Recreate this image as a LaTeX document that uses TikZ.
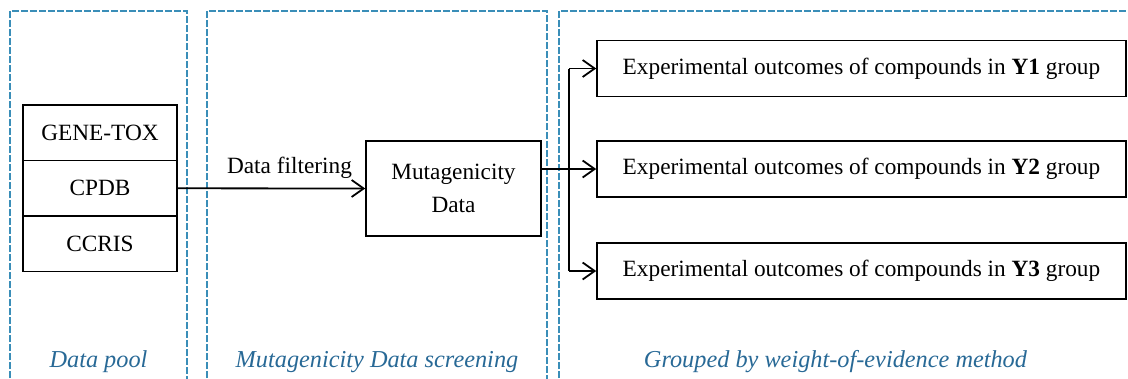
\documentclass[tikz,border=0pt]{standalone}
\usepackage{fontspec}
\setmainfont{Liberation Serif}
\usetikzlibrary{arrows.meta}
\definecolor{panelblue}{RGB}{58,142,184}
\definecolor{labelblue}{RGB}{40,105,150}
\tikzset{
  panel/.style={draw=panelblue, line width=1.4pt, dash pattern=on 7pt off 2pt},
  box/.style={draw=black, line width=1.6pt, inner sep=0pt, align=center,
              font=\fontsize{23.3}{35}\selectfont},
  arr/.style={line width=1.8pt, -{Straight Barb[length=12pt,width=17pt,line width=1.8pt]}},
  link/.style={line width=1.8pt},
  caption/.style={text=labelblue, font=\fontsize{24.3}{28}\selectfont\itshape, inner sep=0pt},
  plain/.style={font=\fontsize{23.3}{28}\selectfont, inner sep=0pt}
}
\begin{document}
\begin{tikzpicture}[x=1pt,y=-1pt]
  \useasboundingbox (0,0) rectangle (1128,378);
  \clip (0,0) rectangle (1128,378);

  % stage frames
  \draw[panel] (10,396) -- (10,11) -- (187,11) -- (187,396);
  \draw[panel] (207,396) -- (207,11) -- (547,11) -- (547,396);
  \draw[panel] (559,396) -- (559,11) -- (1140,11);

  % data sources
  \node[box, minimum width=154pt, minimum height=55.5pt] (gene)  at (100,132.8) {GENE-TOX};
  \node[box, minimum width=154pt, minimum height=55.5pt] (cpdb)  at (100,188.3) {CPDB};
  \node[box, minimum width=154pt, minimum height=55.5pt] (ccris) at (100,243.8) {CCRIS};

  % screened data
  \node[box, minimum width=175pt, minimum height=95pt] (mut) at (453.5,188.5)
       {Mutagenicity\\[-2pt]Data};

  % groups
  \node[box, minimum width=529pt, minimum height=56pt] (y1) at (861.5,68.5)
       {Experimental outcomes of compounds in \textbf{Y1} group};
  \node[box, minimum width=529pt, minimum height=56pt] (y2) at (861.5,169)
       {Experimental outcomes of compounds in \textbf{Y2} group};
  \node[box, minimum width=529pt, minimum height=56pt] (y3) at (861.5,271)
       {Experimental outcomes of compounds in \textbf{Y3} group};

  % connectors
  \draw[arr] (cpdb.east) -- (mut.west);
  \node[plain] (filt) at (289.5,168) {Data filtering};

  \coordinate (bt) at (569,68.5);
  \coordinate (bb) at (569,271);
  \draw[link] (bt) -- (bb);
  \draw[arr] (bt) -- (y1.west);
  \draw[arr] (bb) -- (y3.west);
  \draw[arr] (mut.east |- y2.west) -- (y2.west);

  % stage captions
  \node[caption] (c1) at (98.5,362) {Data pool};
  \node[caption] (c2) at (377,362) {Mutagenicity Data screening};
  \node[caption] (c3) at (835.5,362) {Grouped by weight-of-evidence method};
\end{tikzpicture}
\end{document}
